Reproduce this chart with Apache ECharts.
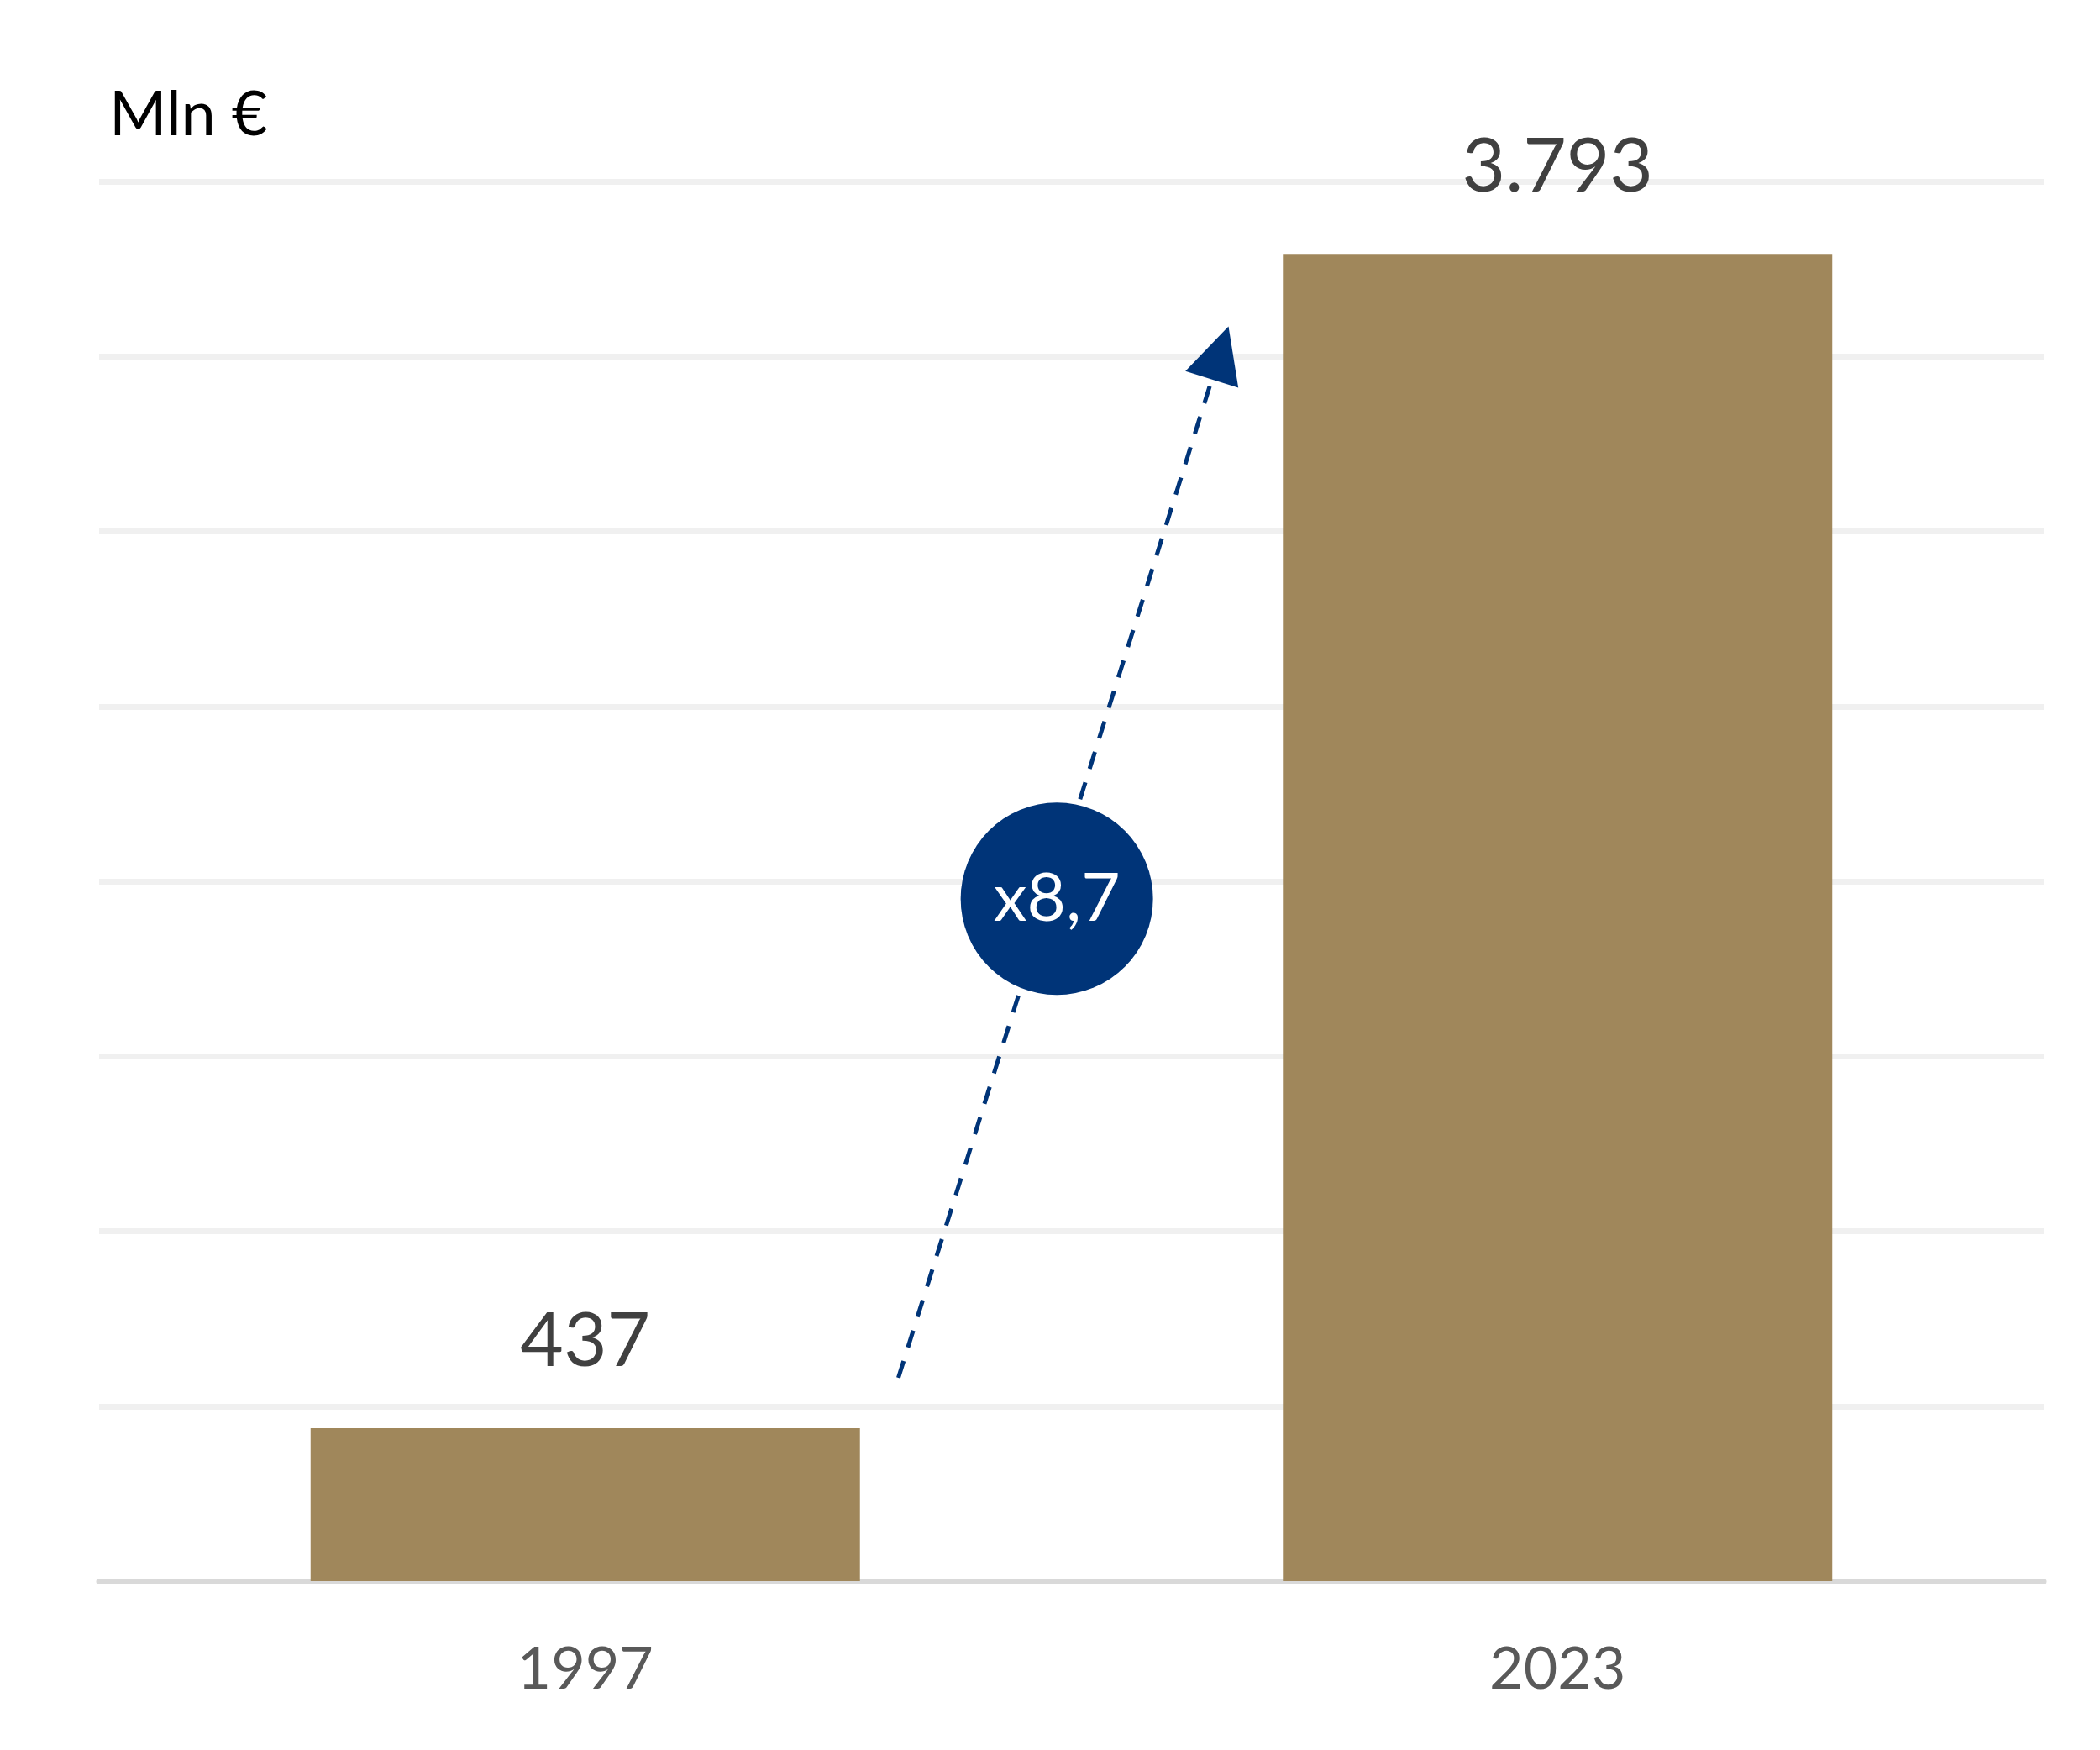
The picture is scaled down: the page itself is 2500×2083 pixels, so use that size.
<!DOCTYPE html>
<html>
<head>
<meta charset="utf-8">
<script src="https://cdn.jsdelivr.net/npm/echarts@6/dist/echarts.min.js"></script>
<style>
html,body{margin:0;padding:0;background:#fff;}
#chart{width:2500px;height:2083px;}
</style>
</head>
<body>
<div id="chart"></div>
<script>
// ---- data ----
var categories = ['1997', '2023'];
var values = [437, 3793];
var unitLabel = 'Mln €';
var yMin = 0, yMax = 4000, yInterval = 500;
var multiplierText = 'x8,7';
// annotation anchor points in data units (x: category index on a value overlay axis, y: Mln €)
var arrowFrom = [0.322, 581];
var arrowTo = [0.653, 3510];
var badgePoint = [0.485, 1950];

function fmt(v) {
  return String(v).replace(/\B(?=(\d{3})+(?!\d))/g, '.');
}

var FONT = 'Lato';
var chart = echarts.init(document.getElementById('chart'), null, {renderer: 'canvas'});
chart.setOption({
  backgroundColor: '#ffffff',
  animation: false,
  title: {
    text: unitLabel,
    left: 130,
    top: 100,
    padding: 0,
    textStyle: {fontFamily: FONT, fontSize: 74, lineHeight: 74, fontWeight: 'normal', color: '#000000'}
  },
  grid: {left: 118, right: 67, top: 216, bottom: 201, containLabel: false},
  xAxis: [{
    type: 'category',
    data: categories,
    axisLine: {show: true, lineStyle: {color: '#d9d9d9', width: 7}},
    axisTick: {show: false},
    splitLine: {show: false},
    axisLabel: {fontFamily: FONT, fontSize: 70, lineHeight: 70, color: '#595959', margin: 70}
  }, {
    type: 'value',
    min: -0.5,
    max: 1.5,
    show: false
  }],
  yAxis: {
    type: 'value',
    min: yMin,
    max: yMax,
    interval: yInterval,
    axisLine: {show: false},
    axisTick: {show: false},
    axisLabel: {show: false},
    splitLine: {show: true, lineStyle: {color: '#f0f0f0', width: 7}}
  },
  series: [{
    type: 'bar',
    data: values,
    xAxisIndex: 0,
    barCategoryGap: '43.5%',
    itemStyle: {color: '#a0875b'},
    label: {
      show: true,
      position: 'top',
      distance: 58,
      formatter: function (p) { return fmt(p.value); },
      fontFamily: FONT,
      fontSize: 89,
      lineHeight: 89,
      color: '#404040'
    },
    z: 2
  }, {
    type: 'scatter',
    xAxisIndex: 1,
    data: [badgePoint],
    symbol: 'circle',
    symbolSize: 229,
    itemStyle: {color: '#003478', opacity: 1},
    label: {
      show: true,
      position: 'inside',
      formatter: multiplierText,
      fontFamily: FONT,
      fontSize: 80,
      color: '#ffffff'
    },
    z: 10,
    markLine: {
      silent: true,
      z: 3,
      symbol: ['none', 'triangle'],
      symbolSize: 66,
      label: {show: false},
      lineStyle: {color: '#003478', type: [21, 17], width: 5},
      emphasis: {disabled: true},
      data: [[{coord: arrowFrom}, {coord: arrowTo}]]
    }
  }]
});
</script>
</body>
</html>
